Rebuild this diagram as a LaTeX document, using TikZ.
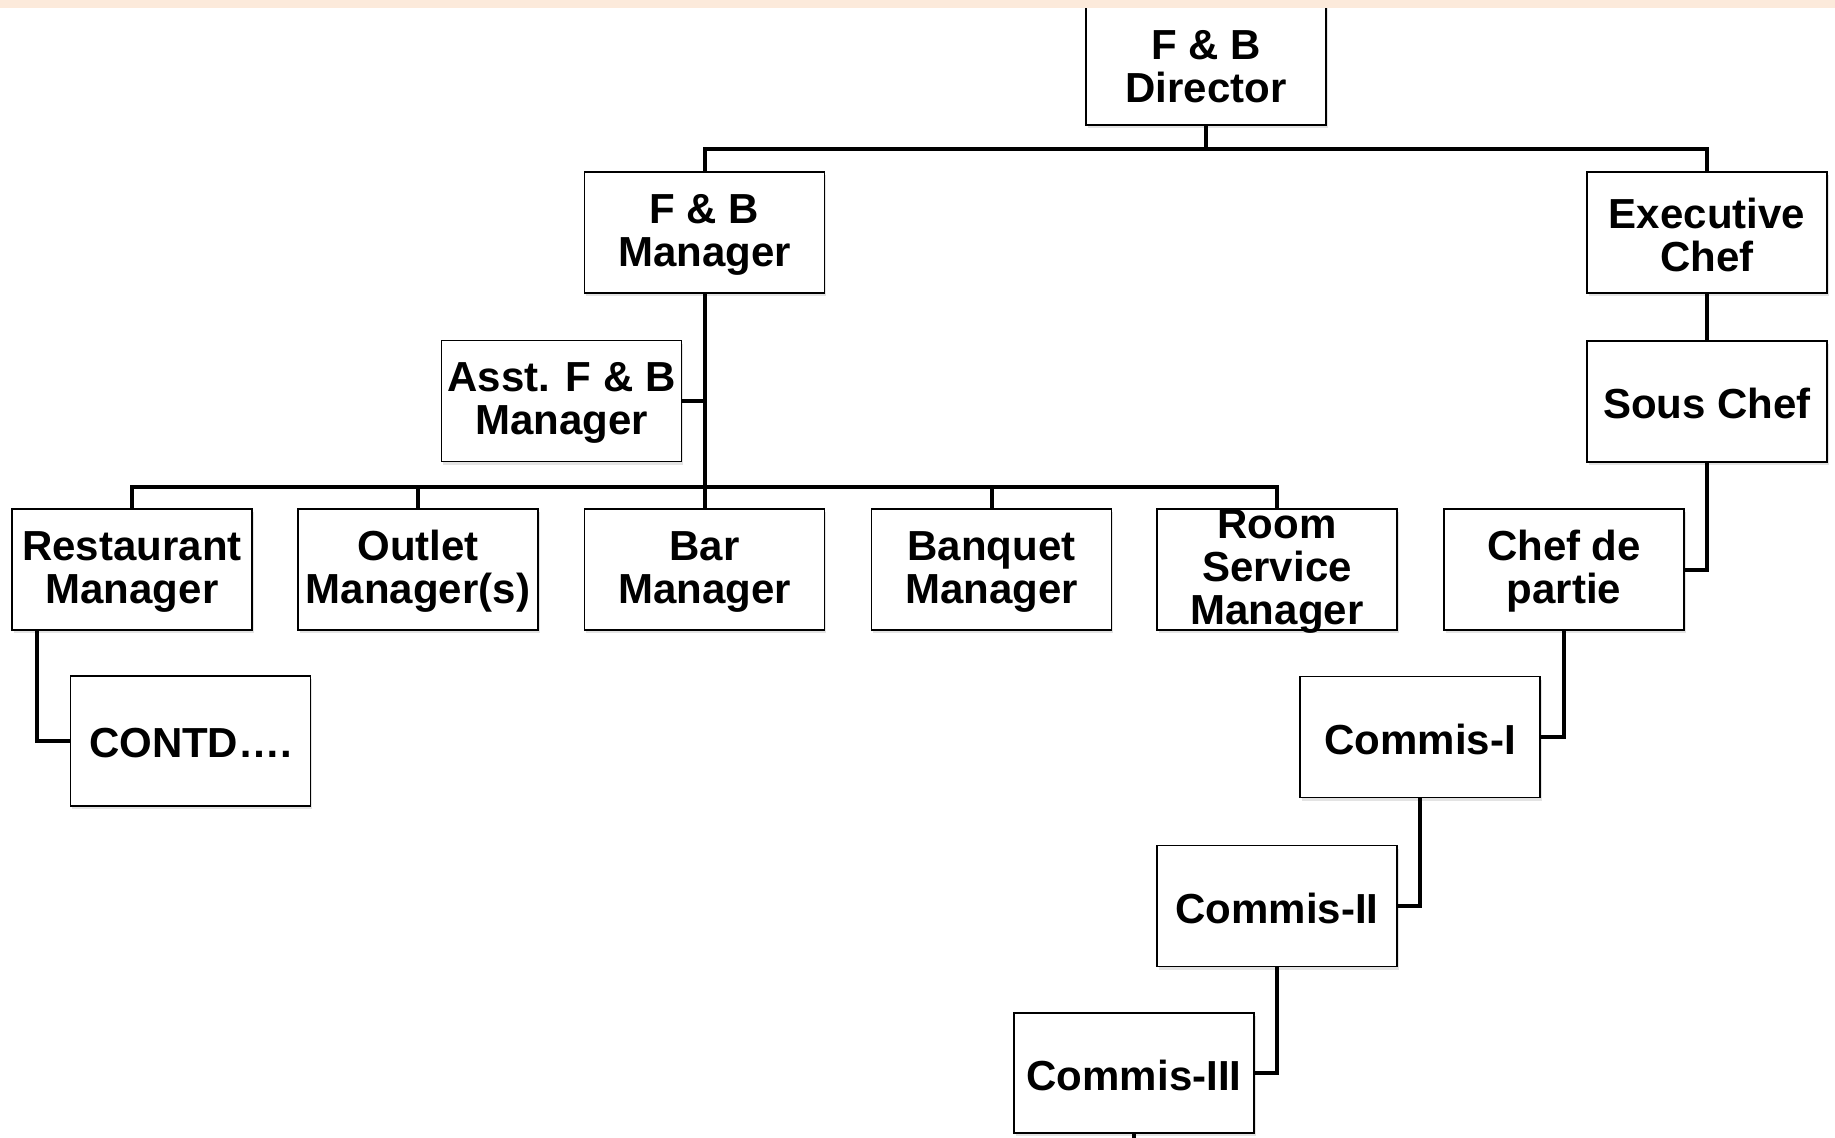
\documentclass[tikz,border=0pt]{standalone}
\usepackage{fontspec}
\setmainfont{Liberation Sans}
\usetikzlibrary{shadows}
\definecolor{peach}{HTML}{FCEADB}
\begin{document}
\begin{tikzpicture}[x=1pt,y=-1pt,
  box/.style={draw=black, line width=1.8pt, fill=white, minimum width=240pt,
    minimum height=121pt, inner sep=0pt,
    drop shadow={opacity=0.22, shadow xshift=1.5pt, shadow yshift=-3pt}},
  every label/.style={align=center, font=\bfseries\fontsize{42}{43}\selectfont, inner sep=0pt, yshift=-2pt},
  conn/.style={draw=black, line width=4pt}]
\useasboundingbox (0,0) rectangle (1835,1137);
\fill[white] (0,0) rectangle (1835,1137);
% nodes
\node[box, label={center:{F \& B\\Director}}] (dir) at (1206,64.5) {};
\node[box, label={center:{F \& B\\Manager}}] (fbm) at (704.5,232.5) {};
\node[box, label={center:{Executive\\Chef}}] (ec) at (1707,232.5) {};
\node[box, label={center:{Asst. F \& B\\Manager}}] (asst) at (561.5,401) {};
\node[box, label={center:{Sous Chef}}] (sc) at (1707,401.5) {};
\node[box, label={center:{Restaurant\\Manager}}] (rm) at (132,569.5) {};
\node[box, label={center:{Outlet\\Manager(s)}}] (om) at (418,569.5) {};
\node[box, label={center:{Bar\\Manager}}] (bm) at (704.5,569.5) {};
\node[box, label={center:{Banquet\\Manager}}] (bqm) at (991.5,569.5) {};
\node[box, label={center:{Room\\Service\\Manager}}] (rsm) at (1277,569.5) {};
\node[box, label={center:{Chef de\\partie}}] (cdp) at (1564,569.5) {};
\node[box, minimum height=130pt, label={center:{CONTD….}}] (contd) at (190.5,741) {};
\node[box, label={center:{Commis-I}}] (c1) at (1420,737) {};
\node[box, label={center:{Commis-II}}] (c2) at (1277,906) {};
\node[box, minimum height=120pt, label={center:{Commis-III}}] (c3) at (1134,1073) {};
\coordinate (j1) at (1206,149);
\coordinate (j2) at (704.5,487);
\coordinate (c3end) at (1134,1150);
% connectors
\draw[conn] (dir.south) -- (j1);
\draw[conn] (fbm.north) |- (j1) -| (ec.north);
\draw[conn] (fbm.south) -- (j2);
\draw[conn] (asst.east) -- (asst.east -| fbm.south);
\draw[conn] (rm.north) |- (j2) -| (rsm.north);
\draw[conn] (om.north) -- (om.north |- j2);
\draw[conn] (bm.north) -- (j2);
\draw[conn] (bqm.north) -- (bqm.north |- j2);
\draw[conn] ([xshift=26pt]rm.south west) |- (contd.west);
\draw[conn] (ec.south) -- (sc.north);
\draw[conn] (sc.south) |- (cdp.east);
\draw[conn] (cdp.south) |- (c1.east);
\draw[conn] (c1.south) |- (c2.east);
\draw[conn] (c2.south) |- (c3.east);
\draw[conn] (c3.south) -- (c3end);
% top strip
\fill[peach] (0,0) rectangle (1835,8);
\end{tikzpicture}
\end{document}
